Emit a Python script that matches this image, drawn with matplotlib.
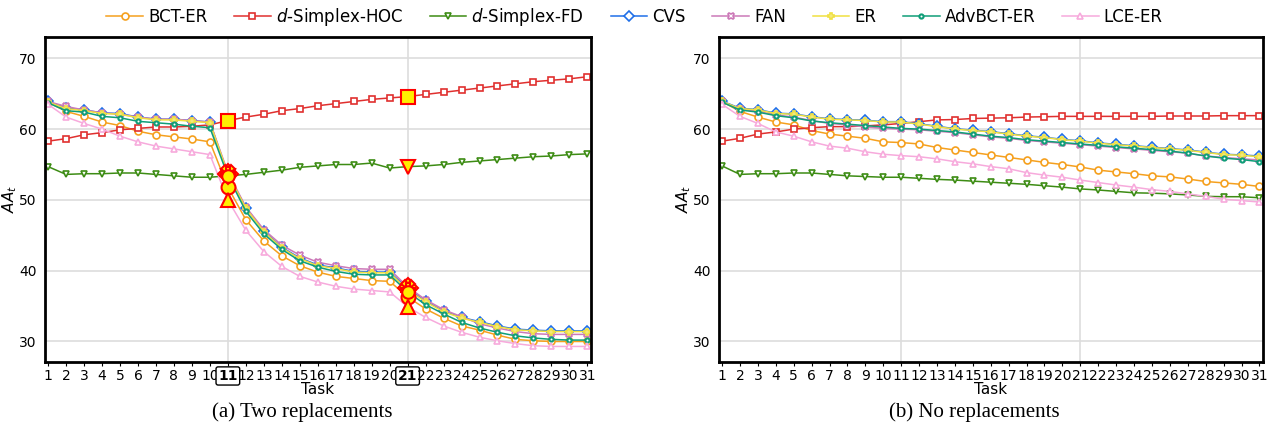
import matplotlib.pyplot as plt
import numpy as np

tasks = np.arange(1, 32)
methods = ["BCT-ER", "$d$-Simplex-HOC", "$d$-Simplex-FD", "CVS", "FAN", "ER", "AdvBCT-ER", "LCE-ER"]
colors = ["#f5a01e", "#e0302f", "#3d8c14", "#1f6fe8", "#cc79b8", "#f0e040", "#0f9e78", "#f7aadc"]
markers = ["o", "s", "v", "D", "X", "P", "o", "^"]

# (a) two replacements
bct_a = [63.8, 62.5, 61.8, 61.0, 60.5, 59.7, 59.2, 58.9, 58.6, 58.2, 51.8, 47.2, 44.2, 42.1, 40.7, 39.8,
         39.2, 38.9, 38.6, 38.5, 36.3, 34.6, 33.3, 32.2, 31.6, 30.9, 30.3, 30.1, 30.0, 30.0, 30.0]
hoc_a = [58.3, 58.65, 59.2, 59.5, 59.9, 60.1, 60.3, 60.3, 60.4, 60.6, 61.2, 61.7, 62.1, 62.6, 62.9, 63.3,
         63.6, 63.9, 64.2, 64.4, 64.6, 64.9, 65.2, 65.5, 65.8, 66.1, 66.4, 66.7, 66.9, 67.1, 67.4]
fd_a = [54.7, 53.6, 53.7, 53.7, 53.8, 53.8, 53.6, 53.4, 53.2, 53.2, 53.4, 53.6, 53.9, 54.2, 54.6, 54.8,
        55.0, 55.0, 55.2, 54.5, 54.7, 54.8, 55.0, 55.3, 55.5, 55.7, 55.9, 56.1, 56.2, 56.4, 56.5]
cvs_a = [63.9, 63.0, 62.7, 62.3, 62.2, 61.7, 61.4, 61.4, 61.2, 61.0, 53.6, 48.9, 45.6, 43.3, 41.8, 40.8,
         40.4, 39.9, 39.8, 39.8, 37.5, 35.7, 34.3, 33.4, 32.8, 32.2, 31.75, 31.6, 31.5, 31.5, 31.5]
fan_a = [63.9, 63.2, 62.7, 62.3, 62.1, 61.7, 61.4, 61.4, 61.2, 61.0, 53.9, 49.0, 45.8, 43.6, 42.2, 41.2,
         40.7, 40.3, 40.2, 40.2, 37.7, 35.9, 34.5, 33.5, 32.5, 31.9, 31.4, 31.1, 31.0, 31.0, 31.0]
er_a = [63.8, 62.9, 62.6, 62.2, 62.1, 61.6, 61.3, 61.3, 61.1, 60.9, 53.7, 48.8, 45.5, 43.2, 41.7, 40.7,
        40.3, 39.8, 39.7, 39.7, 37.3, 35.6, 34.2, 33.3, 32.7, 32.1, 31.65, 31.5, 31.4, 31.4, 31.4]
adv_a = [63.7, 62.6, 62.4, 61.8, 61.6, 61.1, 60.9, 60.7, 60.4, 60.2, 53.4, 48.4, 45.2, 43.0, 41.4, 40.5,
         39.9, 39.5, 39.4, 39.4, 37.0, 35.2, 33.9, 32.7, 31.9, 31.3, 30.8, 30.5, 30.3, 30.2, 30.2]
lce_a = [63.5, 61.7, 60.8, 60.0, 59.0, 58.2, 57.6, 57.2, 56.8, 56.4, 50.0, 45.7, 42.7, 40.6, 39.2, 38.4,
         37.8, 37.4, 37.2, 37.0, 34.9, 33.4, 32.2, 31.3, 30.6, 30.1, 29.7, 29.4, 29.3, 29.3, 29.3]

# (b) no replacements
bct_b = [63.9, 62.5, 61.7, 61.0, 60.6, 59.8, 59.3, 59.0, 58.7, 58.2, 58.1, 57.9, 57.4, 57.05, 56.7, 56.35,
         56.0, 55.65, 55.3, 55.0, 54.65, 54.2, 53.95, 53.7, 53.4, 53.25, 52.95, 52.6, 52.4, 52.2, 51.9]
hoc_b = [58.3, 58.7, 59.3, 59.6, 60.0, 60.2, 60.35, 60.35, 60.45, 60.6, 60.8, 61.05, 61.3, 61.35, 61.5, 61.55,
         61.6, 61.7, 61.75, 61.8, 61.8, 61.8, 61.8, 61.8, 61.8, 61.85, 61.85, 61.85, 61.9, 61.9, 61.9]
fd_b = [54.8, 53.6, 53.7, 53.7, 53.8, 53.8, 53.6, 53.4, 53.3, 53.2, 53.2, 53.05, 52.9, 52.8, 52.65, 52.5,
        52.35, 52.2, 52.0, 51.8, 51.55, 51.4, 51.2, 51.0, 50.95, 50.85, 50.7, 50.5, 50.45, 50.45, 50.3]
cvs_b = [63.95, 62.95, 62.75, 62.25, 62.15, 61.75, 61.45, 61.35, 61.25, 61.05, 61.05, 60.75, 60.4, 60.05, 59.85, 59.65,
         59.35, 59.05, 58.85, 58.55, 58.35, 58.05, 57.85, 57.65, 57.45, 57.25, 57.05, 56.75, 56.45, 56.35, 56.2]
fan_b = [63.9, 62.8, 62.5, 62.0, 61.7, 61.2, 60.8, 60.6, 60.3, 60.1, 60.0, 59.9, 59.7, 59.5, 59.2, 58.9,
         58.7, 58.4, 58.2, 58.0, 57.8, 57.6, 57.4, 57.2, 57.0, 56.8, 56.6, 56.2, 56.0, 55.8, 55.65]
er_b = [63.9, 62.9, 62.7, 62.2, 62.1, 61.7, 61.4, 61.3, 61.2, 61.0, 61.0, 60.7, 60.35, 60.0, 59.8, 59.6,
        59.3, 59.0, 58.8, 58.5, 58.3, 58.0, 57.8, 57.6, 57.4, 57.2, 57.0, 56.7, 56.4, 56.3, 56.1]
adv_b = [63.8, 62.7, 62.4, 61.9, 61.6, 61.15, 60.9, 60.7, 60.5, 60.3, 60.1, 60.0, 59.8, 59.6, 59.3, 59.0,
         58.8, 58.5, 58.3, 58.1, 57.9, 57.7, 57.5, 57.3, 57.1, 56.9, 56.6, 56.2, 55.9, 55.7, 55.4]
lce_b = [63.5, 61.8, 60.8, 59.6, 59.0, 58.2, 57.6, 57.3, 56.8, 56.45, 56.25, 56.1, 55.8, 55.4, 55.1, 54.7,
         54.4, 53.85, 53.5, 53.2, 52.8, 52.45, 52.1, 51.8, 51.45, 51.2, 50.85, 50.5, 50.1, 49.9, 49.7]

data_a = [bct_a, hoc_a, fd_a, cvs_a, fan_a, er_a, adv_a, lce_a]
data_b = [bct_b, hoc_b, fd_b, cvs_b, fan_b, er_b, adv_b, lce_b]
replace_tasks = [11, 21]

fig = plt.figure(figsize=(12.69, 4.25), dpi=100)
ax1 = fig.add_axes([0.0355, 0.1482, 0.4302, 0.7654])
ax2 = fig.add_axes([0.5666, 0.1482, 0.4287, 0.7654])

handles = []
for ax, data, highlight in [(ax1, data_a, True), (ax2, data_b, False)]:
    ax.set_axisbelow(True)
    ax.grid(axis="y", color="#dddddd", lw=1.2)
    for t in replace_tasks:
        ax.axvline(t, color="#dddddd", lw=1.2, zorder=0)
    for i in range(len(methods)):
        small = methods[i] == "AdvBCT-ER"
        ms = 3 if small else 5
        mew = 1.5 if small else 1.2
        h, = ax.plot(tasks, data[i], color=colors[i], marker=markers[i], ms=ms, mew=mew,
                     mfc="white", lw=1.1, label=methods[i])
        if ax is ax1:
            handles.append(h)
        if highlight:
            idx = [t - 1 for t in replace_tasks]
            ax.plot(tasks[idx], np.array(data[i])[idx], ls="none", marker=markers[i],
                    ms=9 if small else 10, mfc="#ffee00", mec="red", mew=1.5, zorder=5)
    ax.set_xlim(0.83, 31.2)
    ax.set_ylim(27.1, 73.05)
    ax.set_xticks(tasks)
    ax.set_yticks([30, 40, 50, 60, 70])
    ax.tick_params(axis="x", labelsize=10, length=3, pad=2)
    ax.tick_params(axis="y", labelsize=10, length=0, pad=6)
    for s in ax.spines.values():
        s.set_linewidth(2)
    ax.set_xlabel("Task", fontsize=11, labelpad=-1)
    ax.set_ylabel("$AA_t$", fontsize=11)
    ax.yaxis.set_label_coords(-0.047, 0.5)

for lab in ax1.get_xticklabels():
    if lab.get_text() in ["11", "21"]:
        lab.set_fontweight("bold")
        lab.set_bbox(dict(boxstyle="round,pad=0.15", fc="white", ec="black", lw=1))

fig.legend(handles=handles, loc="center", bbox_to_anchor=(0.5, 0.96), ncol=8, frameon=False,
           fontsize=12, handlelength=2.2, columnspacing=1.6, handletextpad=0.3)

fig.text(0.238, 0.018, "(a) Two replacements", ha="center", fontsize=15, family="Liberation Serif")
fig.text(0.768, 0.018, "(b) No replacements", ha="center", fontsize=15, family="Liberation Serif")

fig.savefig("out.png", dpi=100)
